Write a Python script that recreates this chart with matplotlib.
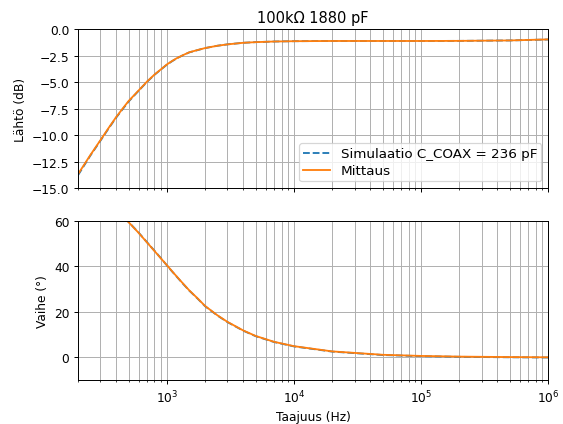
import matplotlib.pyplot as plt
import numpy as np

# taajuudet (Hz)
freq = [200, 250, 300, 350, 400, 450, 500, 600, 700, 800, 900, 1000, 1100, 1200, 1350,
        1500, 1750, 2000, 2500, 3000, 4000, 5000, 7000, 1e4, 2e4, 5e4, 1e5, 2e5, 5e5, 1e6]

# mittaus
mag_meas = [-13.7, -11.9, -10.5, -9.3, -8.3, -7.5, -6.8, -5.8, -4.95, -4.3, -3.8, -3.35,
            -3.02, -2.75, -2.45, -2.2, -1.98, -1.8, -1.58, -1.45, -1.3, -1.24, -1.18,
            -1.15, -1.13, -1.13, -1.13, -1.12, -1.08, -0.98]
phase_meas = [76.5, 73.5, 70.5, 67.5, 64.7, 62.0, 59.5, 54.8, 50.5, 46.8, 43.5, 40.6,
              37.9, 35.5, 32.3, 29.5, 25.9, 22.6, 18.5, 15.6, 11.8, 9.4, 6.8, 4.9, 2.6,
              1.1, 0.6, 0.3, 0.1, 0.0]

# simulaatio
mag_sim = [-13.8, -11.95, -10.55, -9.35, -8.35, -7.55, -6.85, -5.83, -4.98, -4.32, -3.82,
           -3.37, -3.04, -2.76, -2.46, -2.21, -1.99, -1.8, -1.58, -1.45, -1.3, -1.24,
           -1.18, -1.15, -1.13, -1.13, -1.13, -1.12, -1.08, -0.99]
phase_sim = [76.6, 73.6, 70.6, 67.6, 64.8, 62.1, 59.6, 54.9, 50.6, 46.9, 43.6, 40.5,
             37.8, 35.4, 32.2, 29.4, 25.8, 22.5, 18.4, 15.5, 11.7, 9.3, 6.7, 4.8, 2.5,
             1.0, 0.5, 0.2, 0.0, -0.1]

fig, (ax1, ax2) = plt.subplots(2, 1, sharex=True, figsize=(563 / 88, 425 / 88), dpi=88)
fig.subplots_adjust(left=0.1385, right=0.9734, top=0.9294, bottom=0.1035, hspace=0.2075)

ax1.plot(freq, mag_sim, '--', color='tab:blue', label='Simulaatio C_COAX = 236 pF')
ax1.plot(freq, mag_meas, color='tab:orange', label='Mittaus')
ax1.set_xscale('log')
ax1.set_xlim(200, 1e6)
ax1.set_ylim(-15, 0)
ax1.set_yticks(np.arange(-15, 0.1, 2.5))
ax1.set_ylabel('Lähtö (dB)')
ax1.set_title('100kΩ 1880 pF')
ax1.grid(which='both')
ax1.legend(loc='lower right', fontsize=11, labelspacing=0.3, borderpad=0.3)

ax2.plot(freq, phase_sim, '--', color='tab:blue')
ax2.plot(freq, phase_meas, color='tab:orange')
ax2.set_ylim(-10, 60)
ax2.set_yticks([0, 20, 40, 60])
ax2.set_ylabel('Vaihe (°)')
ax2.set_xlabel('Taajuus (Hz)')
ax2.grid(which='both')

plt.savefig('out.png', dpi=88)
